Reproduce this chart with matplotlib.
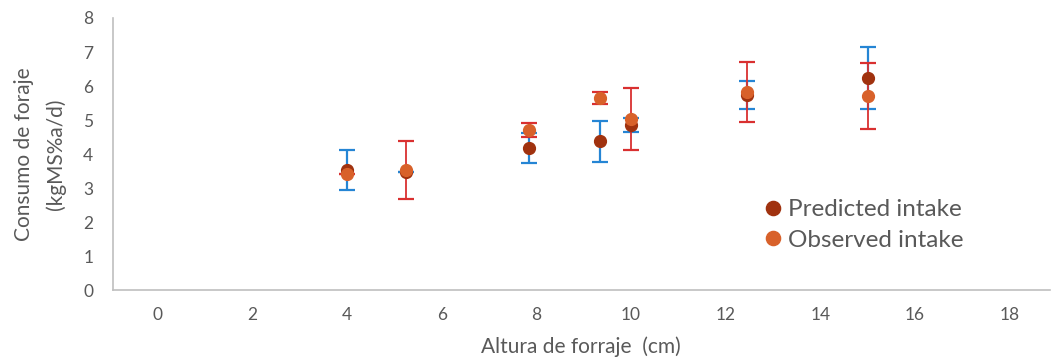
import numpy as np
import matplotlib.pyplot as plt

# Datos
altura = [4.0, 5.25, 7.85, 9.35, 10.0, 12.45, 15.0]
predicho = [3.52, 3.47, 4.18, 4.37, 4.85, 5.74, 6.24]
pred_err = [0.59, 0.0, 0.45, 0.60, 0.20, 0.42, 0.91]
observado = [3.42, 3.54, 4.71, 5.65, 5.03, 5.82, 5.70]
obs_err = [0.0, 0.85, 0.21, 0.18, 0.90, 0.88, 0.97]

xticks = list(range(0, 20, 2))
yticks = list(range(0, 9))

plt.rcParams['font.family'] = ['Lato', 'DejaVu Sans']
gris = '#595959'

fig = plt.figure(figsize=(10.53, 3.6), dpi=100)
ax = fig.add_axes([0.107, 0.194, 0.89, 0.756])

# barras de error
ax.errorbar(altura, predicho, yerr=pred_err, fmt='none', ecolor='#2585D4',
            elinewidth=1.6, capsize=5.5, capthick=1.6, zorder=2)
ax.errorbar(altura, observado, yerr=obs_err, fmt='none', ecolor='#D93030',
            elinewidth=1.3, capsize=5.5, capthick=1.6, zorder=2)

# puntos
ax.plot(altura, predicho, 'o', color='#A0320F', ms=8.5, zorder=3,
        label='Predicted intake')
ax.plot(altura, observado, 'o', color='#D8612A', ms=8.5, zorder=4,
        label='Observed intake')

ax.set_xlim(-0.95, 18.85)
ax.set_ylim(0, 8)
ax.set_xticks(xticks)
ax.set_yticks(yticks)
ax.tick_params(length=0, colors=gris, labelsize=12.5)
ax.tick_params(axis='x', pad=12)
ax.tick_params(axis='y', pad=14)

for s in ['top', 'right']:
    ax.spines[s].set_visible(False)
for s in ['left', 'bottom']:
    ax.spines[s].set_color('#BFBFBF')
    ax.spines[s].set_linewidth(1.2)

ax.set_xlabel('Altura de forraje  (cm)', color=gris, fontsize=15, labelpad=10)
ax.set_ylabel('Consumo de foraje\n(kgMS%a/d)', color=gris, fontsize=15,
              labelpad=12, linespacing=1.7)

leg = ax.legend(loc='upper left', bbox_to_anchor=(0.68, 0.37), frameon=False,
                fontsize=17.5, handletextpad=0.05, labelspacing=0.4,
                handlelength=1.1, borderaxespad=0, markerscale=1.2)
for t in leg.get_texts():
    t.set_color(gris)

fig.savefig('out.png', dpi=100)
